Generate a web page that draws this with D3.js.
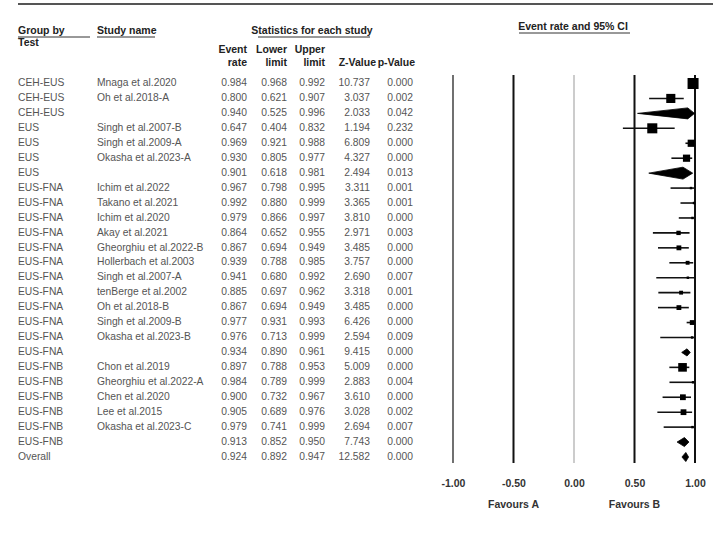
<!DOCTYPE html>
<html><head><meta charset="utf-8">
<script src="https://cdn.jsdelivr.net/npm/d3@7"></script>
<style>
html,body{margin:0;padding:0;background:#fff;}
svg{display:block;font-family:"Liberation Sans",Arial,sans-serif;}
</style></head>
<body>
<svg id="chart" width="713" height="535"></svg>
<script>
// ---- data ----
const groups = ["CEH-EUS","CEH-EUS","CEH-EUS","EUS","EUS","EUS","EUS",
  "EUS-FNA","EUS-FNA","EUS-FNA","EUS-FNA","EUS-FNA","EUS-FNA","EUS-FNA","EUS-FNA","EUS-FNA","EUS-FNA","EUS-FNA","EUS-FNA",
  "EUS-FNB","EUS-FNB","EUS-FNB","EUS-FNB","EUS-FNB","EUS-FNB","Overall"];
const studies = ["Mnaga et al.2020","Oh et al.2018-A","","Singh et al.2007-B","Singh et al.2009-A","Okasha et al.2023-A","",
  "Ichim et al.2022","Takano et al.2021","Ichim et al.2020","Akay et al.2021","Gheorghiu et al.2022-B","Hollerbach et al.2003",
  "Singh et al.2007-A","tenBerge et al.2002","Oh et al.2018-B","Singh et al.2009-B","Okasha et al.2023-B","",
  "Chon et al.2019","Gheorghiu et al.2022-A","Chen et al.2020","Lee et al.2015","Okasha et al.2023-C","",""];
const eventRate = [0.984,0.800,0.940,0.647,0.969,0.930,0.901,0.967,0.992,0.979,0.864,0.867,0.939,0.941,0.885,0.867,0.977,0.976,0.934,0.897,0.984,0.900,0.905,0.979,0.913,0.924];
const lowerLimit = [0.968,0.621,0.525,0.404,0.921,0.805,0.618,0.798,0.880,0.866,0.652,0.694,0.788,0.680,0.697,0.694,0.931,0.713,0.890,0.788,0.789,0.732,0.689,0.741,0.852,0.892];
const upperLimit = [0.992,0.907,0.996,0.832,0.988,0.977,0.981,0.995,0.999,0.997,0.955,0.949,0.985,0.992,0.962,0.949,0.993,0.999,0.961,0.953,0.999,0.967,0.976,0.999,0.950,0.947];
const zValue = ["10.737","3.037","2.033","1.194","6.809","4.327","2.494","3.311","3.365","3.810","2.971","3.485","3.757","2.690","3.318","3.485","6.426","2.594","9.415","5.009","2.883","3.610","3.028","2.694","7.743","12.582"];
const pValue = ["0.000","0.002","0.042","0.232","0.000","0.000","0.013","0.001","0.001","0.000","0.003","0.000","0.000","0.007","0.001","0.000","0.000","0.009","0.000","0.000","0.004","0.000","0.002","0.007","0.000","0.000"];
// relative weight of each row (marker size)
const weights = [10,8,10,9,6,6,11,1,1,1,3,3.5,2.5,1,2.5,3.5,3.5,1,6,7.5,1,4.5,4.5,1,8,8];
const tickValues = [-1,-0.5,0,0.5,1];
const tickLabels = ["-1.00","-0.50","0.00","0.50","1.00"];
const favourLabels = ["Favours A","Favours B"];

// ---- layout ----
const svg = d3.select("#chart");
const x = d3.scaleLinear().domain([-1,1]).range([453,695]);
const y = d3.scaleLinear().domain([0,groups.length-1]).range([83.5,457]);
const size = d3.scaleLinear().domain([0,10]).range([1.5,11]);
const fmt = d3.format(".3f");
const isSummary = studies.map(s => s === "");

// top rule
svg.append("line").attr("x1",18).attr("x2",713).attr("y1",4).attr("y2",4)
  .attr("stroke","#555").attr("stroke-width",2);

// headers
const hdr = svg.append("g").attr("font-weight","bold").attr("font-size",10.5).attr("fill","#222");
function htext(t,xx,yy,anchor){ return hdr.append("text").attr("x",xx).attr("y",yy).attr("text-anchor",anchor||"start").attr("dominant-baseline","middle").text(t); }
function uline(x1,x2,yy){ svg.append("line").attr("x1",x1).attr("x2",x2).attr("y1",yy).attr("y2",yy).attr("stroke","#333").attr("stroke-width",1); }
htext("Group by",18,31); uline(18,90,37);
htext("Test",18,43);
htext("Study name",97,31); uline(97,155,37);
htext("Statistics for each study",312,31,"middle"); uline(258,370,37);
htext("Event",247,50,"end"); htext("rate",247,63,"end");
htext("Lower",287,50,"end"); htext("limit",287,63,"end");
htext("Upper",325,50,"end"); htext("limit",325,63,"end");
htext("Z-Value",376,63,"end"); htext("p-Value",415,63,"end");
htext("Event rate and 95% CI",573,27,"middle"); uline(519,630,33);

// table rows
const tb = svg.append("g").attr("font-size",10.3).attr("fill","#555");
groups.forEach((g,i) => {
  const yy = y(i);
  const row = [[g,18,"start"],[studies[i],97,"start"],[fmt(eventRate[i]),247,"end"],[fmt(lowerLimit[i]),287,"end"],
               [fmt(upperLimit[i]),325,"end"],[zValue[i],370,"end"],[pValue[i],413,"end"]];
  row.forEach(([t,xx,a]) => tb.append("text").attr("x",xx).attr("y",yy).attr("text-anchor",a)
     .attr("dominant-baseline","middle").text(t));
});

// vertical reference lines
const vStyle = {"-1":[1.2,"#111"],"-0.5":[2,"#111"],"0":[1,"#999"],"0.5":[2,"#111"],"1":[2,"#111"]};
tickValues.forEach(v => {
  const st = vStyle[String(v)];
  svg.append("line").attr("x1",x(v)).attr("x2",x(v)).attr("y1",75).attr("y2",463)
    .attr("stroke",st[1]).attr("stroke-width",st[0]);
});

// axis labels
const ax = d3.axisBottom(x).tickValues(tickValues).tickFormat((d,i)=>tickLabels[i]).tickSize(0).tickPadding(0);
const axg = svg.append("g").attr("transform","translate(0,480)").call(ax);
axg.select(".domain").remove();
axg.selectAll("text").attr("font-size",10.5).attr("font-weight","bold").attr("fill","#333")
  .attr("font-family","'Liberation Sans',Arial,sans-serif");

svg.append("text").attr("x",(x(-1)+x(0))/2).attr("y",505).attr("text-anchor","middle").attr("dominant-baseline","middle")
  .attr("font-size",10.5).attr("font-weight","bold").attr("fill","#333").text(favourLabels[0]);
svg.append("text").attr("x",(x(0)+x(1))/2).attr("y",505).attr("text-anchor","middle").attr("dominant-baseline","middle")
  .attr("font-size",10.5).attr("font-weight","bold").attr("fill","#333").text(favourLabels[1]);

// markers
const pg = svg.append("g");
groups.forEach((g,i) => {
  const yy = y(i);
  if (isSummary[i]) {
    const h = size(weights[i]) / 2;
    const pts = [[x(lowerLimit[i]),yy],[x(eventRate[i]),yy-h],[x(upperLimit[i]),yy],[x(eventRate[i]),yy+h]];
    pg.append("path").attr("d", d3.line()(pts) + "Z").attr("fill","#000").attr("stroke","#000").attr("stroke-width",0.8);
  } else {
    pg.append("line").attr("x1",x(lowerLimit[i])).attr("x2",x(upperLimit[i])).attr("y1",yy).attr("y2",yy)
      .attr("stroke","#111").attr("stroke-width",1.6);
    const s = size(weights[i]);
    pg.append("rect").attr("x",x(eventRate[i])-s/2).attr("y",yy-s/2).attr("width",s).attr("height",s).attr("fill","#000");
  }
});
</script>
</body></html>
